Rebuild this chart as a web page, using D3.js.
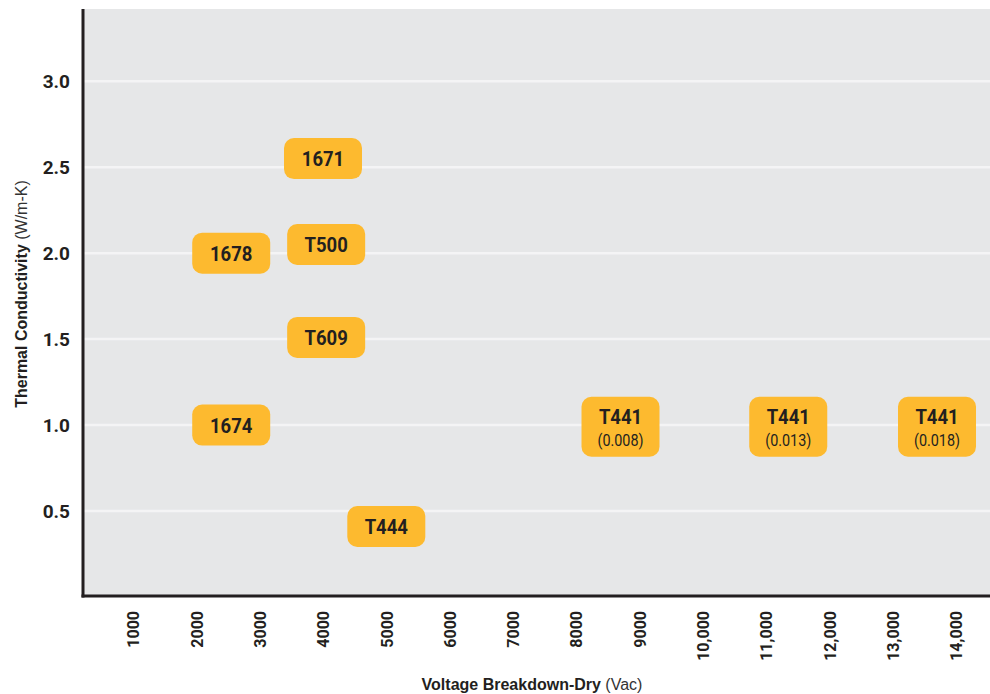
<!DOCTYPE html>
<html><head><meta charset="utf-8">
<script src="https://cdn.jsdelivr.net/npm/d3@7"></script>
<style>
body{margin:0;background:#fff;}
svg{display:block;}
.cond{font-family:"Liberation Sans Narrow","Arial Narrow","Roboto",sans-serif;}
</style>
</head><body>
<svg id="chart" width="990" height="694"></svg>
<script>
// Data
const names = ["1671","1678","T500","T609","1674","T444","T441","T441","T441"];
const subLabels = ["","","","","","","(0.008)","(0.013)","(0.018)"];
const voltage = [4000,2550,4050,4050,2550,5000,8700,11350,13700];
const conductivity = [2.55,2.0,2.05,1.51,1.0,0.41,0.99,0.99,0.99];
const xTicks = [1000,2000,3000,4000,5000,6000,7000,8000,9000,10000,11000,12000,13000,14000];
const xTickLabels = ["1000","2000","3000","4000","5000","6000","7000","8000","9000","10,000","11,000","12,000","13,000","14,000"];
const yTicks = [0.5,1.0,1.5,2.0,2.5,3.0];

const svg = d3.select("#chart");
const pLeft = 83, pRight = 990, pTop = 9, pBottom = 596;

const x = d3.scaleLinear()
  .domain([(pLeft-69.8)/63.3*1000, (pRight-69.8)/63.3*1000])
  .range([pLeft,pRight]);
const y = d3.scaleLinear().domain([0,3.42]).range([597,pTop]);

// background
svg.append("rect").attr("x",pLeft).attr("y",pTop).attr("width",pRight-pLeft).attr("height",pBottom-pTop).attr("fill","#e6e7e8");

// gridlines
svg.append("g").selectAll("line").data(yTicks).join("line")
  .attr("x1",pLeft).attr("x2",pRight)
  .attr("y1",d=>y(d)).attr("y2",d=>y(d))
  .attr("stroke","#f4f4f5").attr("stroke-width",2.5);

// y axis
const yAxis = svg.append("g").attr("transform",`translate(${pLeft},0)`)
  .call(d3.axisLeft(y).tickValues(yTicks).tickFormat(d3.format(".1f")).tickSize(0).tickPadding(13));
yAxis.select(".domain").remove();
yAxis.selectAll("text").attr("class","cond").style("font-size","19px").style("font-weight","bold").attr("fill","#231f20");

// x axis
const xAxis = svg.append("g").attr("transform",`translate(0,${pBottom})`)
  .call(d3.axisBottom(x).tickValues(xTicks).tickFormat((d,i)=>xTickLabels[i]).tickSize(0));
xAxis.select(".domain").remove();
xAxis.selectAll("text")
  .attr("class","cond")
  .attr("transform","rotate(-90)")
  .attr("text-anchor","end")
  .attr("x",-15).attr("y",0).attr("dy","0.36em")
  .style("font-size","16px").style("font-weight","bold").attr("fill","#231f20");

// axis lines
svg.append("line").attr("x1",pLeft).attr("x2",pLeft).attr("y1",pTop).attr("y2",pBottom+1.5).attr("stroke","#231f20").attr("stroke-width",3);
svg.append("line").attr("x1",pLeft-1.5).attr("x2",pRight).attr("y1",pBottom).attr("y2",pBottom).attr("stroke","#231f20").attr("stroke-width",3);

// titles
const yt = svg.append("text").attr("transform","translate(27,294) rotate(-90)").attr("text-anchor","middle")
  .style("font-family","'Liberation Sans',Arial,sans-serif").style("font-size","16px").attr("fill","#231f20");
yt.append("tspan").text("Thermal Conductivity").style("font-weight","bold");
yt.append("tspan").text(" (W/m-K)").style("font-weight","normal").attr("fill","#333");

const xt = svg.append("text").attr("x",532).attr("y",690).attr("text-anchor","middle")
  .style("font-family","'Liberation Sans',Arial,sans-serif").style("font-size","16px").attr("fill","#231f20");
xt.append("tspan").text("Voltage Breakdown-Dry").style("font-weight","bold");
xt.append("tspan").text(" (Vac)").style("font-weight","normal").attr("fill","#333");

// labels
const pts = names.map((n,i)=>({n, s:subLabels[i], v:voltage[i], c:conductivity[i]}));
const g = svg.append("g").selectAll("g").data(pts).join("g")
  .attr("transform",d=>`translate(${x(d.v)},${y(d.c)})`);
g.append("rect")
  .attr("x",-39).attr("width",78)
  .attr("y",d=>d.s? -30 : -20.5)
  .attr("height",d=>d.s? 60 : 41)
  .attr("rx",10).attr("fill","#fdba2f");
g.append("text").attr("class","cond").attr("text-anchor","middle")
  .attr("transform",d=>`translate(0,${d.s? -3 : 7.5}) scale(0.88,1)`)
  .style("font-size","21px").style("font-weight","bold").attr("fill","#231f20")
  .text(d=>d.n);
g.filter(d=>d.s).append("text").attr("class","cond").attr("text-anchor","middle")
  .attr("transform","translate(0,19) scale(0.9,1)")
  .style("font-size","16px").attr("fill","#231f20")
  .text(d=>d.s);
</script>
</body></html>
